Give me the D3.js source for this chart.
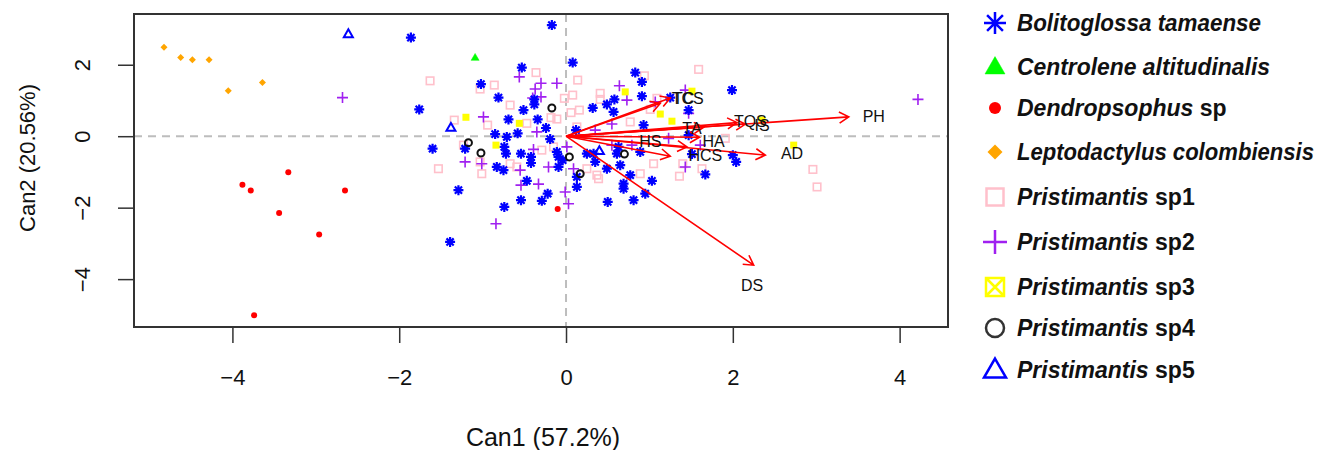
<!DOCTYPE html>
<html lang="en">
<head>
  <meta charset="UTF-8">
  <title>Canonical biplot</title>
  <script src="https://cdnjs.cloudflare.com/ajax/libs/d3/7.8.5/d3.min.js"></script>
  <style>
    body { margin: 0; background: white; }
    svg { background: white; font-family: "Liberation Sans", Arial, sans-serif; }
  </style>
</head>
<body>
  <script>
    // species and their scores on Can1 / Can2
    var species = ["Bolitoglossa tamaense", "Centrolene altitudinalis", "Dendropsophus sp",
      "Leptodactylus colombiensis", "Pristimantis sp1", "Pristimantis sp2", "Pristimantis sp3",
      "Pristimantis sp4", "Pristimantis sp5"];

    var bolitoglossa = [
      [-0.17,3.11],[-1.86,2.76],[0.08,2.06],[-0.53,1.92],[0.83,1.78],[0.91,1.52],[-1.02,1.46],
      [-0.81,1.08],[0.91,1.12],[0.58,1.03],[0.49,0.89],[-1.76,0.75],[-0.38,1.03],[-0.38,0.89],
      [-0.51,0.73],[0.32,0.79],[0.57,0.68],[-0.69,0.47],[-0.34,0.47],[-0.24,0.23],[-0.58,0.08],
      [-0.85,0.06],[-0.71,-0.02],[-0.19,-0.08],[-1.60,-0.35],[-1.21,-0.35],[-0.74,-0.30],
      [-0.72,-0.49],[-0.54,-0.49],[-0.42,-0.58],[-0.42,-0.75],[-0.83,-0.86],[-0.75,-0.95],
      [-0.09,-0.86],[-0.04,-0.67],[-0.47,-1.25],[-1.29,-1.51],[-0.74,-1.98],[-0.54,-1.79],
      [-0.22,-1.61],[-0.29,-1.81],[0.13,-1.42],[0.13,-1.14],[0.35,-0.72],[0.49,-0.91],
      [0.65,-0.81],[0.77,-1.09],[0.69,-1.33],[0.69,-1.47],[0.95,-1.61],[1.03,-1.25],
      [0.81,-1.79],[0.50,-1.84],[-1.39,-2.96],[0.61,-0.49],[0.89,-0.44],[0.33,-0.49],
      [0.63,-0.30],[1.99,1.29],[1.25,1.08],[1.47,0.73],[1.47,0.03],[1.51,-0.50],[2.04,-0.72],
      [1.67,-1.07],[0.25,-0.49],[0.93,0.31],[0.12,0.17],[-0.11,-0.44],[-0.09,-0.58],[2.00,-0.53]
    ];
    var centrolene = [[-1.09,2.20]];
    var dendropsophus = [[-3.88,-1.36],[-3.78,-1.52],[-3.33,-1.01],[-2.65,-1.52],[-3.44,-2.15],
      [-2.96,-2.75],[-3.74,-5.01],[-0.10,-2.04]];
    var leptodactylus = [[-4.82,2.49],[-4.62,2.20],[-4.48,2.14],[-4.28,2.14],[-4.05,1.27],[-3.64,1.50]];
    var sp1 = [
      [-1.63,1.55],[-0.86,1.43],[-1.03,1.32],[-0.36,1.78],[0.14,1.57],[0.08,1.15],[-0.02,1.06],
      [-0.67,0.87],[0.06,0.66],[0.16,0.73],[-0.18,0.52],[-0.11,0.48],[-1.34,0.45],[-0.94,0.31],
      [-1.23,-0.25],[-1.53,-0.91],[-1.01,-1.05],[-1.03,-0.72],[-0.67,-0.77],[-0.59,-0.86],
      [-0.29,-0.39],[-0.47,0.36],[0.41,1.20],[0.41,1.03],[1.59,1.87],[0.94,1.69],[0.77,0.40],
      [1.01,0.75],[1.05,-0.77],[0.89,-1.05],[0.39,-1.19],[0.37,-1.09],[1.40,-0.77],[1.36,-1.12],
      [1.63,-0.91],[1.91,-0.06],[2.96,-0.93],[3.01,-1.42],[1.09,1.06],[0.25,-0.91],[-0.15,-0.30],
      [0.13,0.26]
    ];
    var sp2 = [
      [-2.68,1.08],[4.22,1.03],[-0.56,1.66],[-0.30,1.48],[-0.11,1.48],[-0.37,1.32],[-0.30,1.10],
      [-0.40,1.07],[-0.99,0.54],[-0.35,0.12],[-0.39,-0.37],[-1.21,-0.72],[-1.01,-0.77],
      [-0.55,-0.95],[-0.33,-1.34],[-0.54,-1.37],[-0.21,-0.86],[-0.01,-1.56],[0.03,-1.89],
      [-0.84,-2.45],[0.09,-0.91],[0.01,-0.30],[0.64,1.41],[0.73,1.01],[1.43,1.29],[1.47,0.64],
      [1.07,0.96],[1.23,-0.06],[1.61,-0.25],[1.43,-0.86],[0.55,0.34],[0.35,0.17],[0.79,-0.25],
      [0.55,-0.25]
    ];
    var sp3 = [[-1.20,0.53],[-0.56,0.36],[-0.84,-0.25],[0.71,1.24],[1.13,0.62],[1.27,0.42],
      [1.51,1.26],[2.73,-0.25],[2.35,0.45]];
    var sp4 = [[-0.17,0.79],[-1.17,-0.18],[-1.02,-0.47],[0.04,-0.58],[0.17,-1.05],[0.70,-0.50]];
    var sp5 = [[-2.61,2.86],[-1.38,0.24],[0.40,-0.41]];

    // structure coefficients of the environmental variables
    var varNames = ["TCS", "TC", "TQS", "IS", "TA", "HA", "HS", "HCS", "AD", "PH", "DS"];
    var varX = [1.25, 1.13, 2.05, 2.15, 1.65, 1.60, 1.25, 1.45, 2.39, 3.39, 2.25];
    var varY = [1.07, 0.92, 0.38, 0.34, 0.25, -0.03, -0.56, -0.30, -0.53, 0.54, -3.61];
    var labX = [1.46, 1.41, 2.21, 2.35, 1.51, 1.77, 1.01, 1.67, 2.71, 3.69, 2.23];
    var labY = [1.05, 1.05, 0.40, 0.31, 0.22, -0.16, -0.16, -0.53, -0.49, 0.56, -4.17];

    var xTicks = [-4, -2, 0, 2, 4];
    var yTicks = [-4, -2, 0, 2];

    var w = 1332, h = 450;
    var svg = d3.select("body").append("svg").attr("width", w).attr("height", h);

    var x = d3.scaleLinear().domain([-5.18, 4.58]).range([134, 948]);
    var y = d3.scaleLinear().domain([-5.34, 3.42]).range([327, 14]);

    // zero lines
    svg.append("line").attr("x1", x(0)).attr("x2", x(0)).attr("y1", 14).attr("y2", 327)
      .attr("stroke", "#bdbdbd").attr("stroke-width", 2).attr("stroke-dasharray", "8,6");
    svg.append("line").attr("x1", 134).attr("x2", 948).attr("y1", y(0)).attr("y2", y(0))
      .attr("stroke", "#bdbdbd").attr("stroke-width", 2).attr("stroke-dasharray", "8,6");

    // symbol drawing, like R's pch
    function sym(g, type, cx, cy, s, col, lw) {
      var r = s / 2;
      if (type == "star") {
        var d2 = r * 0.72;
        g.append("path").attr("d",
          "M" + (cx - r) + "," + cy + "H" + (cx + r) +
          "M" + cx + "," + (cy - r) + "V" + (cy + r) +
          "M" + (cx - d2) + "," + (cy - d2) + "L" + (cx + d2) + "," + (cy + d2) +
          "M" + (cx - d2) + "," + (cy + d2) + "L" + (cx + d2) + "," + (cy - d2))
          .attr("stroke", col).attr("stroke-width", lw).attr("fill", "none");
      } else if (type == "plus") {
        g.append("path").attr("d",
          "M" + (cx - r) + "," + cy + "H" + (cx + r) + "M" + cx + "," + (cy - r) + "V" + (cy + r))
          .attr("stroke", col).attr("stroke-width", lw).attr("fill", "none");
      } else if (type == "tri" || type == "trio") {
        var th = s * 0.866;
        g.append("path").attr("d",
          "M" + cx + "," + (cy - th * 0.6) + "L" + (cx + r) + "," + (cy + th * 0.4) +
          "L" + (cx - r) + "," + (cy + th * 0.4) + "Z")
          .attr("fill", type == "tri" ? col : "none")
          .attr("stroke", col).attr("stroke-width", type == "tri" ? 0.5 : lw);
      } else if (type == "dot") {
        g.append("circle").attr("cx", cx).attr("cy", cy).attr("r", r).attr("fill", col);
      } else if (type == "circ") {
        g.append("circle").attr("cx", cx).attr("cy", cy).attr("r", r)
          .attr("fill", "none").attr("stroke", col).attr("stroke-width", lw);
      } else if (type == "diamond") {
        g.append("path").attr("d",
          "M" + cx + "," + (cy - r) + "L" + (cx + r) + "," + cy + "L" + cx + "," + (cy + r) +
          "L" + (cx - r) + "," + cy + "Z").attr("fill", col);
      } else if (type == "sq") {
        g.append("rect").attr("x", cx - r).attr("y", cy - r).attr("width", s).attr("height", s)
          .attr("fill", "none").attr("stroke", col).attr("stroke-width", lw);
      } else if (type == "sqx") {
        g.append("path").attr("d",
          "M" + (cx - r) + "," + (cy - r) + "H" + (cx + r) + "V" + (cy + r) + "H" + (cx - r) + "Z" +
          "M" + (cx - r) + "," + (cy - r) + "L" + (cx + r) + "," + (cy + r) +
          "M" + (cx - r) + "," + (cy + r) + "L" + (cx + r) + "," + (cy - r))
          .attr("fill", "none").attr("stroke", col).attr("stroke-width", lw);
      } else if (type == "sqf") {
        g.append("rect").attr("x", cx - r).attr("y", cy - r).attr("width", s).attr("height", s)
          .attr("fill", col);
      }
    }

    var groups = [
      { pts: sp1, type: "sq", s: 7.5, col: "#ffc0cb", lw: 1.6 },
      { pts: sp2, type: "plus", s: 11, col: "#a020f0", lw: 1.6 },
      { pts: bolitoglossa, type: "star", s: 10, col: "#0000ff", lw: 2.2 },
      { pts: sp3, type: "sqf", s: 7, col: "#ffff00", lw: 1 },
      { pts: sp4, type: "circ", s: 7, col: "#111111", lw: 2 },
      { pts: sp5, type: "trio", s: 9, col: "#0000ff", lw: 2 },
      { pts: centrolene, type: "tri", s: 8, col: "#00ff00", lw: 1 },
      { pts: dendropsophus, type: "dot", s: 6, col: "#ff0000", lw: 1 },
      { pts: leptodactylus, type: "diamond", s: 7, col: "#ffa500", lw: 1 }
    ];

    var pg = svg.append("g");
    groups.forEach(function(gr) {
      gr.pts.forEach(function(p) {
        sym(pg, gr.type, x(p[0]), y(p[1]), gr.s, gr.col, gr.lw);
      });
    });

    // arrows
    var ag = svg.append("g").attr("stroke", "#ff0000").attr("stroke-width", 1.6).attr("fill", "none");
    var x0 = x(0), y0 = y(0);
    varNames.forEach(function(n, i) {
      var x1 = x(varX[i]), y1 = y(varY[i]);
      var a = Math.atan2(y1 - y0, x1 - x0), L = 11, sp = Math.PI / 6;
      ag.append("path").attr("d",
        "M" + x0 + "," + y0 + "L" + x1 + "," + y1 +
        "M" + (x1 - L * Math.cos(a - sp)) + "," + (y1 - L * Math.sin(a - sp)) +
        "L" + x1 + "," + y1 +
        "L" + (x1 - L * Math.cos(a + sp)) + "," + (y1 - L * Math.sin(a + sp)));
    });
    svg.append("g").selectAll("text").data(varNames).enter().append("text")
      .attr("x", function(d, i) { return x(labX[i]); })
      .attr("y", function(d, i) { return y(labY[i]); })
      .attr("text-anchor", "middle").attr("dominant-baseline", "central")
      .attr("font-size", 16).attr("fill", "#111")
      .text(function(d) { return d; });

    // box
    svg.append("rect").attr("x", 134).attr("y", 14).attr("width", 814).attr("height", 313)
      .attr("fill", "none").attr("stroke", "#333").attr("stroke-width", 2);

    // axes
    var xa = svg.append("g").attr("transform", "translate(0,327)")
      .call(d3.axisBottom(x).tickValues(xTicks).tickSize(16).tickPadding(26));
    xa.select(".domain").remove();
    xa.selectAll(".tick line").attr("stroke", "#333").attr("stroke-width", 1.5);
    xa.selectAll(".tick text").attr("font-size", 22).attr("fill", "#111")
      .attr("font-family", "Liberation Sans, Arial, sans-serif");

    var ya = svg.append("g").attr("transform", "translate(134,0)")
      .call(d3.axisLeft(y).tickValues(yTicks).tickSize(16));
    ya.select(".domain").remove();
    ya.selectAll(".tick line").attr("stroke", "#333").attr("stroke-width", 1.5);
    ya.selectAll(".tick text").attr("font-size", 22).attr("fill", "#111")
      .attr("font-family", "Liberation Sans, Arial, sans-serif")
      .attr("transform", "rotate(-90)").attr("x", 0).attr("y", -52).attr("dy", null)
      .attr("text-anchor", "middle").attr("dominant-baseline", "central");

    svg.append("text").attr("x", 543).attr("y", 437).attr("text-anchor", "middle")
      .attr("dominant-baseline", "central").attr("font-size", 25).attr("fill", "#111")
      .text("Can1 (57.2%)");
    svg.append("text").attr("transform", "translate(27,158) rotate(-90)")
      .attr("text-anchor", "middle").attr("dominant-baseline", "central")
      .attr("font-size", 22).attr("fill", "#111")
      .text("Can2 (20.56%)");

    // legend
    var legTypes = ["star", "tri", "dot", "diamond", "sq", "plus", "sqx", "circ", "trio"];
    var legCols = ["#0000ff", "#00ff00", "#ff0000", "#ffa500", "#ffc0cb", "#a020f0", "#ffff00", "#333333", "#0000ff"];
    var legSize = [22, 20, 12, 15, 17, 24, 18, 18, 22];
    var legRowY = [23, 67, 108, 152, 197, 242, 287, 328, 370];
    var legWidth = [244, 253, 0, 297];
    var lg = svg.append("g");
    species.forEach(function(sname, i) {
      sym(lg, legTypes[i], 995, legRowY[i], legSize[i], legCols[i], 2.5);
      var parts = sname.split(" ");
      var t = lg.append("text").attr("x", 1017).attr("y", legRowY[i] + 8)
        .attr("font-size", 23).attr("font-weight", "bold").attr("fill", "#111");
      if (/^sp/.test(parts[1])) {
        t.append("tspan").attr("font-style", "italic").text(parts[0]);
        t.append("tspan").text(" " + parts[1]);
      } else {
        t.attr("font-style", "italic").text(sname)
          .attr("textLength", legWidth[i]).attr("lengthAdjust", "spacingAndGlyphs");
      }
    });
  </script>
</body>
</html>
